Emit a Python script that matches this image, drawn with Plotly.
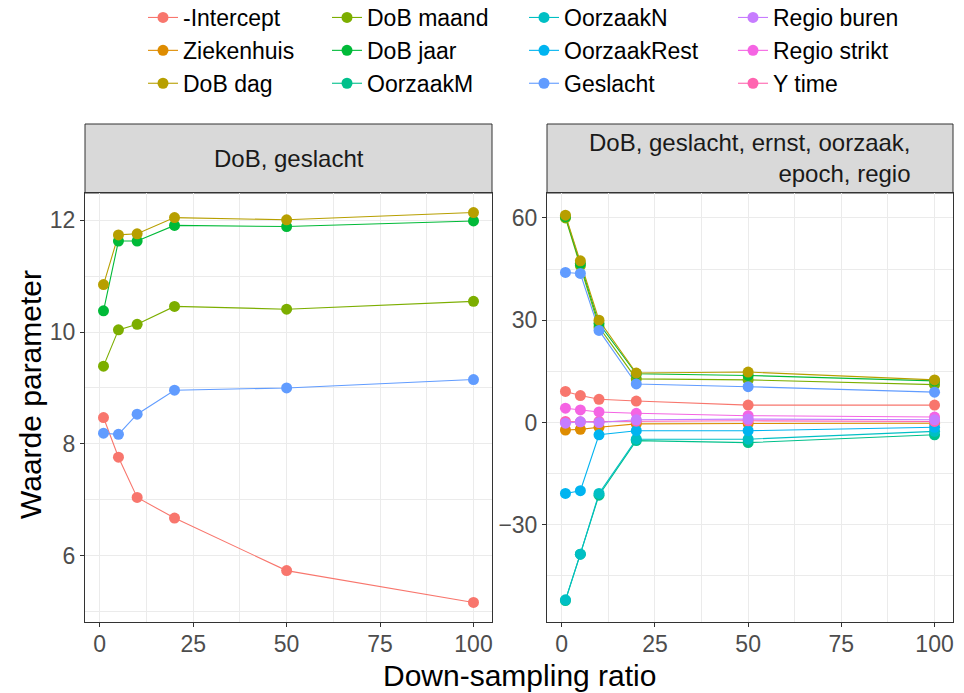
import plotly.graph_objects as go

W, H = 964, 693

ratio = [1, 5, 10, 20, 50, 100]

series_names = ["-Intercept", "Ziekenhuis", "DoB dag", "DoB maand", "DoB jaar", "OorzaakM",
                "OorzaakN", "OorzaakRest", "Geslacht", "Regio buren", "Regio strikt", "Y time"]
colors = ["#F8766D", "#DE8C00", "#B79F00", "#7CAE00", "#00BA38", "#00C08B",
          "#00BFC4", "#00B4F0", "#619CFF", "#C77CFF", "#F564E3", "#FF64B0"]

# Panel 1: DoB, geslacht
left_vals = {
    "-Intercept": [8.47, 7.76, 7.04, 6.67, 5.73, 5.16],
    "DoB dag": [10.85, 11.74, 11.76, 12.05, 12.01, 12.14],
    "DoB maand": [9.39, 10.04, 10.14, 10.46, 10.41, 10.55],
    "DoB jaar": [10.38, 11.63, 11.63, 11.91, 11.89, 11.99],
    "Geslacht": [8.19, 8.17, 8.53, 8.96, 9.00, 9.15],
}

# Panel 2: DoB, geslacht, ernst, oorzaak, epoch, regio
right_vals = {
    "-Intercept": [9.1, 7.9, 6.8, 6.3, 5.1, 5.1],
    "Ziekenhuis": [-2.2, -2.0, -1.4, -0.4, -0.3, -0.2],
    "DoB dag": [60.8, 47.4, 30.0, 14.5, 14.8, 12.5],
    "DoB maand": [60.0, 46.0, 28.0, 12.8, 12.5, 11.1],
    "DoB jaar": [60.4, 46.6, 29.0, 14.3, 13.8, 12.2],
    "OorzaakM": [-52.2, -38.6, -21.3, -5.3, -5.9, -3.6],
    "OorzaakN": [-52.0, -38.6, -20.8, -4.9, -4.9, -2.6],
    "OorzaakRest": [-20.8, -20.0, -3.6, -2.4, -2.4, -1.4],
    "Geslacht": [44.0, 43.7, 27.0, 11.3, 10.5, 8.9],
    "Regio buren": [-0.2, 0.2, 0.0, 0.8, 1.0, 0.8],
    "Regio strikt": [4.2, 3.7, 3.1, 2.7, 2.0, 1.6],
    "Y time": [0.3, 0.2, 0.3, 0.4, 0.5, 0.3],
}

left_strip = "DoB, geslacht"
right_strip = "DoB, geslacht, ernst, oorzaak,<br>epoch, regio"
x_title = "Down-sampling ratio"
y_title = "Waarde parameter"

x_ticks = [0, 25, 50, 75, 100]
left_y_ticks = [6, 8, 10, 12]
right_y_ticks = [-30, 0, 30, 60]

# draw order (later on top)
draw_order = ["-Intercept", "Ziekenhuis", "DoB maand", "DoB jaar", "DoB dag", "OorzaakM",
              "OorzaakN", "OorzaakRest", "Geslacht", "Y time", "Regio strikt", "Regio buren"]

legend_cols = [["-Intercept", "Ziekenhuis", "DoB dag"],
               ["DoB maand", "DoB jaar", "OorzaakM"],
               ["OorzaakN", "OorzaakRest", "Geslacht"],
               ["Regio buren", "Regio strikt", "Y time"]]
legend_of = {}
for i, col in enumerate(legend_cols):
    for j, n in enumerate(col):
        legend_of[n] = ("legend" if i == 0 else f"legend{i+1}", j)

cmap = dict(zip(series_names, colors))
FONT = "Liberation Sans, Arial"

fig = go.Figure()

# lines first
for name in draw_order:
    if name in left_vals:
        fig.add_trace(go.Scatter(x=ratio, y=left_vals[name], mode="lines",
                                 line=dict(color=cmap[name], width=1.1),
                                 xaxis="x", yaxis="y", showlegend=False, hoverinfo="skip"))
    fig.add_trace(go.Scatter(x=ratio, y=right_vals[name], mode="lines",
                             line=dict(color=cmap[name], width=1.1),
                             xaxis="x2", yaxis="y2", showlegend=False, hoverinfo="skip"))
# points
for name in draw_order:
    if name in left_vals:
        fig.add_trace(go.Scatter(x=ratio, y=left_vals[name], mode="markers",
                                 marker=dict(color=cmap[name], size=11),
                                 xaxis="x", yaxis="y", showlegend=False, name=name))
    fig.add_trace(go.Scatter(x=ratio, y=right_vals[name], mode="markers",
                             marker=dict(color=cmap[name], size=11),
                             xaxis="x2", yaxis="y2", showlegend=False, name=name))

# legend entries
for name in series_names:
    lg, rank = legend_of[name]
    fig.add_trace(go.Scatter(x=[None], y=[None], mode="lines+markers", name=name,
                             line=dict(color=cmap[name], width=1.1),
                             marker=dict(color=cmap[name], size=11),
                             xaxis="x", yaxis="y", legend=lg, legendrank=rank + 1,
                             showlegend=True))

x0L, x1L = 85, 492
x0R, x1R = 547, 953
yb, yt = 622, 193
strip_top = 124

def px(x):
    return x / W

def py(y):
    return 1 - y / H

axis_common = dict(showline=True, linecolor="#333333", linewidth=1, mirror=True,
                   ticks="outside", ticklen=4, tickcolor="#333333", tickwidth=1,
                   showgrid=True, gridcolor="#EBEBEB", gridwidth=1.1,
                   tickfont=dict(family=FONT, size=23, color="#4D4D4D"),
                   zeroline=False, automargin=False)

def minor(vals):
    return dict(tickvals=vals, showgrid=True, gridcolor="#EBEBEB", gridwidth=0.5, ticks="")

fig.update_layout(
    width=W, height=H, margin=dict(l=0, r=0, t=0, b=0, autoexpand=False),
    paper_bgcolor="white", plot_bgcolor="white",
    font=dict(family=FONT, color="#000000"),
    xaxis=dict(domain=[px(x0L), px(x1L)], range=[-3.95, 104.95], tickvals=x_ticks,
               minor=minor([12.5, 37.5, 62.5, 87.5]), anchor="y", ticklabelstandoff=-3,
               **axis_common),
    yaxis=dict(domain=[py(yb), py(yt)], range=[4.81, 12.49], tickvals=left_y_ticks,
               minor=minor([5, 7, 9, 11]), anchor="x", **axis_common),
    xaxis2=dict(domain=[px(x0R), px(x1R)], range=[-3.95, 104.95], tickvals=x_ticks,
                minor=minor([12.5, 37.5, 62.5, 87.5]), anchor="y2", ticklabelstandoff=-3,
                **axis_common),
    yaxis2=dict(domain=[py(yb), py(yt)], range=[-58.5, 67.3], tickvals=right_y_ticks,
                minor=minor([-45, -15, 15, 45]), anchor="x2", **axis_common),
    showlegend=True,
)

leg_font = dict(family=FONT, size=23, color="#000000")
legend_x = [143, 327, 524, 733]
for i, lx in enumerate(legend_x):
    key = "legend" if i == 0 else f"legend{i+1}"
    fig.update_layout(**{key: dict(x=px(lx), y=1.0 + 4 / H, xanchor="left", yanchor="top",
                                   orientation="v", font=leg_font, bgcolor="rgba(0,0,0,0)",
                                   itemwidth=30, tracegroupgap=0)})

# strips
for (a, b) in [(x0L, x1L), (x0R, x1R)]:
    fig.add_shape(type="rect", xref="paper", yref="paper", x0=px(a), x1=px(b),
                  y0=py(yt), y1=py(strip_top), fillcolor="#D9D9D9",
                  line=dict(color="#333333", width=1), layer="below")

strip_font = dict(family=FONT, size=24, color="#1A1A1A")
fig.add_annotation(text=left_strip, xref="paper", yref="paper", x=px((x0L + x1L) / 2),
                   y=py((strip_top + yt) / 2), showarrow=False, font=strip_font,
                   xanchor="center", yanchor="middle")
fig.add_annotation(text=right_strip, xref="paper", yref="paper", x=px((x0R + x1R) / 2),
                   y=py((strip_top + yt) / 2), showarrow=False, font=strip_font,
                   xanchor="center", yanchor="middle", align="right")

title_font = dict(family=FONT, size=30, color="#000000")
fig.add_annotation(text=x_title, xref="paper", yref="paper", x=px(519), y=py(675),
                   showarrow=False, font=title_font, xanchor="center", yanchor="middle")
fig.add_annotation(text=y_title, xref="paper", yref="paper", x=px(30), y=py(395),
                   showarrow=False, font=title_font, xanchor="center", yanchor="middle",
                   textangle=-90)

fig.write_html("out.html")
